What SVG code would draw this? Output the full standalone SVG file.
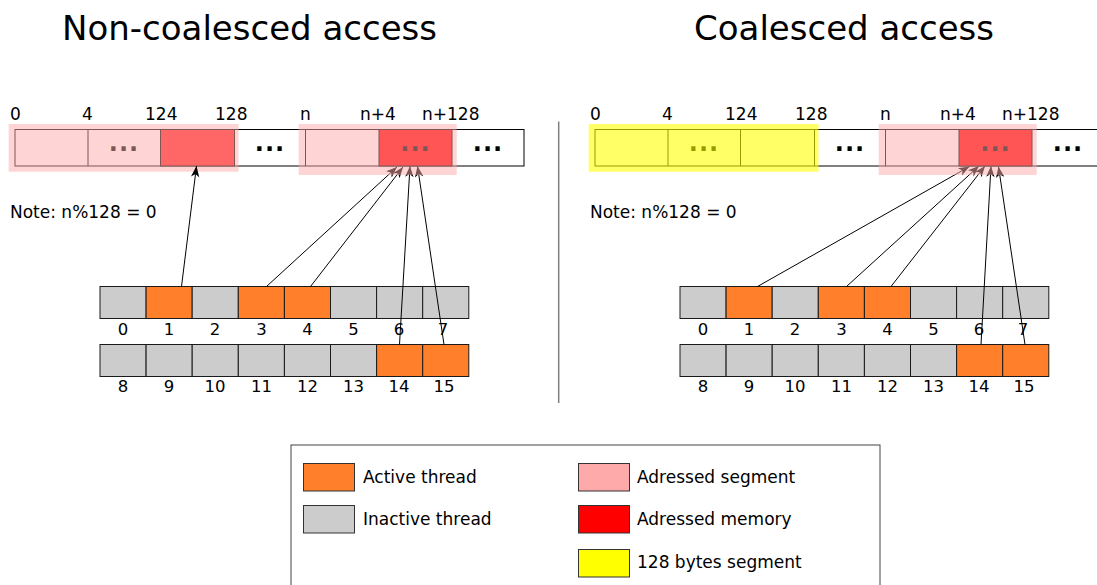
<svg xmlns="http://www.w3.org/2000/svg" width="1097" height="585" viewBox="0 0 1097 585">
  <style>
    text { font-family: "DejaVu Sans", "Liberation Sans", sans-serif; fill: #000; }
    .title { font-size: 34px; }
    .lbl { font-size: 17px; }
    .num { font-size: 16.5px; text-anchor: middle; }
    .dots { font-size: 24px; font-weight: bold; text-anchor: middle; letter-spacing: 1px; }
    .cell { fill: #fff; stroke: #000; stroke-width: 1; }
    .red { fill: #ff0000; }
    .red2 { fill: #ff2222; }
    .act { fill: #ff7f2a; stroke: #1a1a1a; stroke-width: 1; }
    .ina { fill: #cccccc; stroke: #1a1a1a; stroke-width: 1; }
    .seg { fill: #ffaaaa; opacity: 0.5; }
    .seg128 { fill: #ffff00; opacity: 0.6; }
    .wire { fill: none; stroke: #000; stroke-width: 1; marker-end: url(#head); }
    .sw { stroke: #333; stroke-width: 1; }
  </style>
  <defs>
    <marker id="head" markerUnits="userSpaceOnUse" markerWidth="14" markerHeight="10" viewBox="-12 -5 13 10" refX="0" refY="0" orient="auto">
      <path d="M0,0 L-11,-4.2 L-8,0 L-11,4.2 Z" fill="#000"/>
    </marker>
  </defs>

  <rect width="1097" height="585" fill="#fff"/>

  <!-- Titles -->
  <text class="title" x="62" y="40">Non-coalesced access</text>
  <text class="title" x="694" y="40">Coalesced access</text>

  <!-- Divider -->
  <line x1="558.7" y1="121.5" x2="558.7" y2="403" stroke="#808080" stroke-width="1.5"/>

  <!-- Left memory row -->
  <g id="mem-left">
    <rect class="cell" x="15" y="129.5" width="509" height="36.5"/>
    <rect class="cell red2" x="160.5" y="129.5" width="74" height="36.5"/>
    <rect class="cell red" x="379" y="129.5" width="73" height="36.5"/>
    <line x1="88" y1="129.5" x2="88" y2="166" stroke="#000"/>
    <line x1="305.5" y1="129.5" x2="305.5" y2="166" stroke="#000"/>
    <text class="dots" x="124" y="151">...</text>
    <text class="dots" x="270" y="151">...</text>
    <text class="dots" x="415.5" y="151">...</text>
    <text class="dots" x="488" y="151">...</text>
    <text class="lbl" x="10" y="119.5">0</text>
    <text class="lbl" x="82" y="119.5">4</text>
    <text class="lbl" x="145" y="119.5">124</text>
    <text class="lbl" x="215" y="119.5">128</text>
    <text class="lbl" x="300" y="119.5">n</text>
    <text class="lbl" x="360" y="119.5">n+4</text>
    <text class="lbl" x="422" y="119.5">n+128</text>
    <text class="lbl" x="10" y="218">Note: n%128 = 0</text>
  </g>

  <!-- Right memory row -->
  <g id="mem-right">
    <rect class="cell" x="595" y="129.5" width="509" height="36.5"/>
    <rect class="cell red" x="959" y="129.5" width="73" height="36.5"/>
    <line x1="668" y1="129.5" x2="668" y2="166" stroke="#000"/>
    <line x1="740.5" y1="129.5" x2="740.5" y2="166" stroke="#000"/>
    <line x1="814.5" y1="129.5" x2="814.5" y2="166" stroke="#000"/>
    <line x1="885.5" y1="129.5" x2="885.5" y2="166" stroke="#000"/>
    <text class="dots" x="704" y="151">...</text>
    <text class="dots" x="850" y="151">...</text>
    <text class="dots" x="995.5" y="151">...</text>
    <text class="dots" x="1068" y="151">...</text>
    <text class="lbl" x="590" y="119.5">0</text>
    <text class="lbl" x="662" y="119.5">4</text>
    <text class="lbl" x="725" y="119.5">124</text>
    <text class="lbl" x="795" y="119.5">128</text>
    <text class="lbl" x="880" y="119.5">n</text>
    <text class="lbl" x="940" y="119.5">n+4</text>
    <text class="lbl" x="1002" y="119.5">n+128</text>
    <text class="lbl" x="590" y="218">Note: n%128 = 0</text>
  </g>

  <!-- Segment overlays beneath the arrows -->
  <rect id="seg-left-0" class="seg" x="8.7" y="124" width="229.8" height="47.7"/>
  <rect id="seg-right-0" class="seg128" x="588.7" y="124" width="229.8" height="47.7"/>

  <!-- Left threads -->
  <g id="threads-left">
    <rect class="ina" x="100" y="286.5" width="46.1" height="32"/>
    <rect class="act" x="146.1" y="286.5" width="46.1" height="32"/>
    <rect class="ina" x="192.2" y="286.5" width="46.1" height="32"/>
    <rect class="act" x="238.3" y="286.5" width="46.1" height="32"/>
    <rect class="act" x="284.4" y="286.5" width="46.1" height="32"/>
    <rect class="ina" x="330.5" y="286.5" width="46.1" height="32"/>
    <rect class="ina" x="376.6" y="286.5" width="46.1" height="32"/>
    <rect class="ina" x="422.7" y="286.5" width="46.1" height="32"/>
    <rect class="ina" x="100" y="344.5" width="46.1" height="32"/>
    <rect class="ina" x="146.1" y="344.5" width="46.1" height="32"/>
    <rect class="ina" x="192.2" y="344.5" width="46.1" height="32"/>
    <rect class="ina" x="238.3" y="344.5" width="46.1" height="32"/>
    <rect class="ina" x="284.4" y="344.5" width="46.1" height="32"/>
    <rect class="ina" x="330.5" y="344.5" width="46.1" height="32"/>
    <rect class="act" x="376.6" y="344.5" width="46.1" height="32"/>
    <rect class="act" x="422.7" y="344.5" width="46.1" height="32"/>
    <text class="num" x="123" y="334.5">0</text>
    <text class="num" x="169" y="334.5">1</text>
    <text class="num" x="215" y="334.5">2</text>
    <text class="num" x="261.5" y="334.5">3</text>
    <text class="num" x="307.5" y="334.5">4</text>
    <text class="num" x="353.5" y="334.5">5</text>
    <text class="num" x="399" y="334.5">6</text>
    <text class="num" x="443" y="334.5">7</text>
    <text class="num" x="123" y="391.5">8</text>
    <text class="num" x="169" y="391.5">9</text>
    <text class="num" x="215" y="391.5">10</text>
    <text class="num" x="261.5" y="391.5">11</text>
    <text class="num" x="307.5" y="391.5">12</text>
    <text class="num" x="353.5" y="391.5">13</text>
    <text class="num" x="399" y="391.5">14</text>
    <text class="num" x="444" y="391.5">15</text>
  </g>

  <!-- Right threads -->
  <g id="threads-right">
    <rect class="ina" x="680" y="286.5" width="46.1" height="32"/>
    <rect class="act" x="726.1" y="286.5" width="46.1" height="32"/>
    <rect class="ina" x="772.2" y="286.5" width="46.1" height="32"/>
    <rect class="act" x="818.3" y="286.5" width="46.1" height="32"/>
    <rect class="act" x="864.4" y="286.5" width="46.1" height="32"/>
    <rect class="ina" x="910.5" y="286.5" width="46.1" height="32"/>
    <rect class="ina" x="956.6" y="286.5" width="46.1" height="32"/>
    <rect class="ina" x="1002.7" y="286.5" width="46.1" height="32"/>
    <rect class="ina" x="680" y="344.5" width="46.1" height="32"/>
    <rect class="ina" x="726.1" y="344.5" width="46.1" height="32"/>
    <rect class="ina" x="772.2" y="344.5" width="46.1" height="32"/>
    <rect class="ina" x="818.3" y="344.5" width="46.1" height="32"/>
    <rect class="ina" x="864.4" y="344.5" width="46.1" height="32"/>
    <rect class="ina" x="910.5" y="344.5" width="46.1" height="32"/>
    <rect class="act" x="956.6" y="344.5" width="46.1" height="32"/>
    <rect class="act" x="1002.7" y="344.5" width="46.1" height="32"/>
    <text class="num" x="703" y="334.5">0</text>
    <text class="num" x="749" y="334.5">1</text>
    <text class="num" x="795" y="334.5">2</text>
    <text class="num" x="841.5" y="334.5">3</text>
    <text class="num" x="887.5" y="334.5">4</text>
    <text class="num" x="933.5" y="334.5">5</text>
    <text class="num" x="979" y="334.5">6</text>
    <text class="num" x="1023" y="334.5">7</text>
    <text class="num" x="703" y="391.5">8</text>
    <text class="num" x="749" y="391.5">9</text>
    <text class="num" x="795" y="391.5">10</text>
    <text class="num" x="841.5" y="391.5">11</text>
    <text class="num" x="887.5" y="391.5">12</text>
    <text class="num" x="933.5" y="391.5">13</text>
    <text class="num" x="979" y="391.5">14</text>
    <text class="num" x="1024" y="391.5">15</text>
  </g>

  <!-- Thread-to-address connectors -->
  <g id="connectors">
    <line class="wire" x1="181.5" y1="286.5" x2="196.5" y2="166"/>
    <line class="wire" x1="266.5" y1="286.5" x2="397" y2="167"/>
    <line class="wire" x1="310.5" y1="286.5" x2="403" y2="167"/>
    <line class="wire" x1="399.5" y1="344.5" x2="410" y2="166"/>
    <line class="wire" x1="444" y1="344.5" x2="417.5" y2="166"/>
    <line class="wire" x1="757.5" y1="286.5" x2="969.5" y2="166.5"/>
    <line class="wire" x1="846.5" y1="286.5" x2="979" y2="166"/>
    <line class="wire" x1="891" y1="286.5" x2="985" y2="166"/>
    <line class="wire" x1="981" y1="344.5" x2="991" y2="166"/>
    <line class="wire" x1="1025" y1="344.5" x2="998.5" y2="166.5"/>
  </g>

  <!-- Segment overlays above the arrows -->
  <rect id="seg-left-n" class="seg" x="298.7" y="124" width="158" height="51"/>
  <rect id="seg-right-n" class="seg" x="878.7" y="124" width="158" height="51"/>

  <!-- Legend -->
  <g id="legend">
    <rect x="291" y="445" width="589" height="160" fill="#fff" stroke="#444" stroke-width="1"/>
    <rect class="sw" x="303.5" y="463.5" width="51" height="27.5" fill="#ff7f2a"/>
    <text class="lbl" x="363" y="483">Active thread</text>
    <rect class="sw" x="303.5" y="505.5" width="51" height="27.5" fill="#cccccc"/>
    <text class="lbl" x="363" y="525">Inactive thread</text>
    <rect class="sw" x="578.5" y="463.5" width="51" height="27.5" fill="#ffaaaa"/>
    <text class="lbl" x="637" y="483">Adressed segment</text>
    <rect class="sw" x="578.5" y="505.5" width="51" height="27.5" fill="#ff0000"/>
    <text class="lbl" x="637" y="525">Adressed memory</text>
    <rect class="sw" x="578.5" y="549.5" width="51" height="27.5" fill="#ffff00"/>
    <text class="lbl" x="637" y="568">128 bytes segment</text>
  </g>
</svg>
